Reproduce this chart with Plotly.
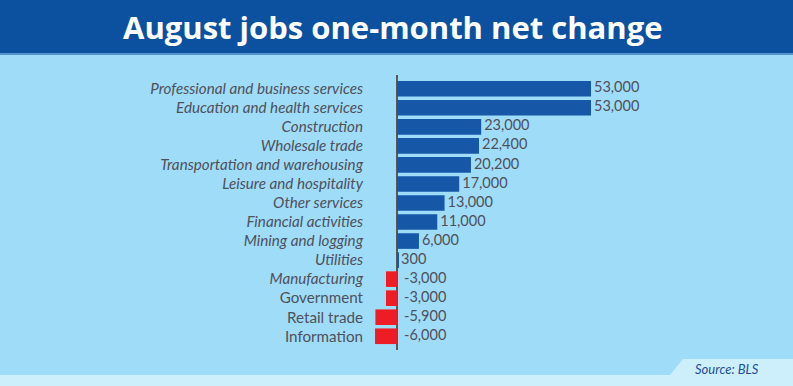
import plotly.graph_objects as go

categories = [
    "Professional and business services",
    "Education and health services",
    "Construction",
    "Wholesale trade",
    "Transportation and warehousing",
    "Leisure and hospitality",
    "Other services",
    "Financial activities",
    "Mining and logging",
    "Utilities",
    "Manufacturing",
    "Government",
    "Retail trade",
    "Information",
]
values = [53000, 53000, 23000, 22400, 20200, 17000, 13000, 11000, 6000, 300,
          -3000, -3000, -5900, -6000]
value_labels = ["53,000", "53,000", "23,000", "22,400", "20,200", "17,000", "13,000",
                "11,000", "6,000", "300", "-3,000", "-3,000", "-5,900", "-6,000"]
italic_labels = [True] * 11 + [False] * 3

W, H = 793, 386
L, R, T, B = 368, 93, 75, 36
PW, PH = W - L - R, H - T - B

def px(x):
    return (x - L) / PW

def py(y):
    return 1 - (y - T) / PH

BLUE = "#1657a8"
RED = "#ee1c25"
TXT = "#4e505c"
BG = "#9fdcf7"

k = 194 / 53000.0
xmin = -(397 - L) / k
xmax = xmin + PW / k

tick_text = [("<i>%s</i>" % c) if it else c for c, it in zip(categories, italic_labels)]
colors = [BLUE if v >= 0 else RED for v in values]
label_x = [v + 3 / k if v > 0 else 7 / k for v in values]

fig = go.Figure()
fig.add_trace(go.Bar(
    y=categories, x=values, orientation="h",
    marker=dict(color=colors, line=dict(width=0)),
    hoverinfo="skip",
))
fig.add_trace(go.Scatter(
    y=categories, x=label_x,
    mode="text", text=value_labels, textposition="middle right",
    textfont=dict(family="Lato", size=14.5, color=TXT),
    hoverinfo="skip",
))

shapes = [
    dict(type="rect", xref="paper", yref="paper", x0=px(0), x1=px(W), y0=py(53), y1=py(0),
         fillcolor="#0b519f", line=dict(width=0), layer="below"),
    dict(type="rect", xref="paper", yref="paper", x0=px(0), x1=px(W), y0=py(55), y1=py(53),
         fillcolor="#4f93cf", line=dict(width=0), layer="below"),
    dict(type="rect", xref="paper", yref="paper", x0=px(0), x1=px(W), y0=py(H), y1=py(375),
         fillcolor="#cdeefb", line=dict(width=0), layer="below"),
    dict(type="path", xref="paper", yref="paper",
         path="M %f %f L %f %f L %f %f L %f %f Z" % (px(670), py(375), px(683), py(359),
                                                    px(W), py(359), px(W), py(375)),
         fillcolor="#cdeefb", line=dict(width=0), layer="below"),
]

annotations = [
    dict(text="<b>August jobs one-month net change</b>", xref="paper", yref="paper",
         x=px(393), y=py(27), xanchor="center", yanchor="middle", showarrow=False,
         font=dict(family="Open Sans", size=31, color="white")),
    dict(text="<i>Source: BLS</i>", xref="paper", yref="paper",
         x=px(727), y=py(369), xanchor="center", yanchor="middle", showarrow=False,
         font=dict(family="Lato", size=13, color="#1c4f98")),
]

fig.update_layout(
    width=W, height=H,
    margin=dict(l=L, r=R, t=T, b=B, pad=0),
    paper_bgcolor=BG, plot_bgcolor=BG,
    showlegend=False, bargap=0.18,
    shapes=shapes, annotations=annotations,
    xaxis=dict(range=[xmin, xmax], showgrid=False, showticklabels=False, ticks="",
               zeroline=True, zerolinecolor="#58585f", zerolinewidth=2, fixedrange=True),
    yaxis=dict(categoryorder="array", categoryarray=categories, autorange="reversed",
               tickmode="array", tickvals=categories, ticktext=tick_text,
               showgrid=False, zeroline=False, ticks="", ticklabelstandoff=4,
               tickfont=dict(family="Lato", size=15.2, color=TXT), fixedrange=True),
)

fig.write_html("out.html", config={"displayModeBar": False},
               post_script="document.body.style.margin='0';document.body.style.overflow='hidden';")
